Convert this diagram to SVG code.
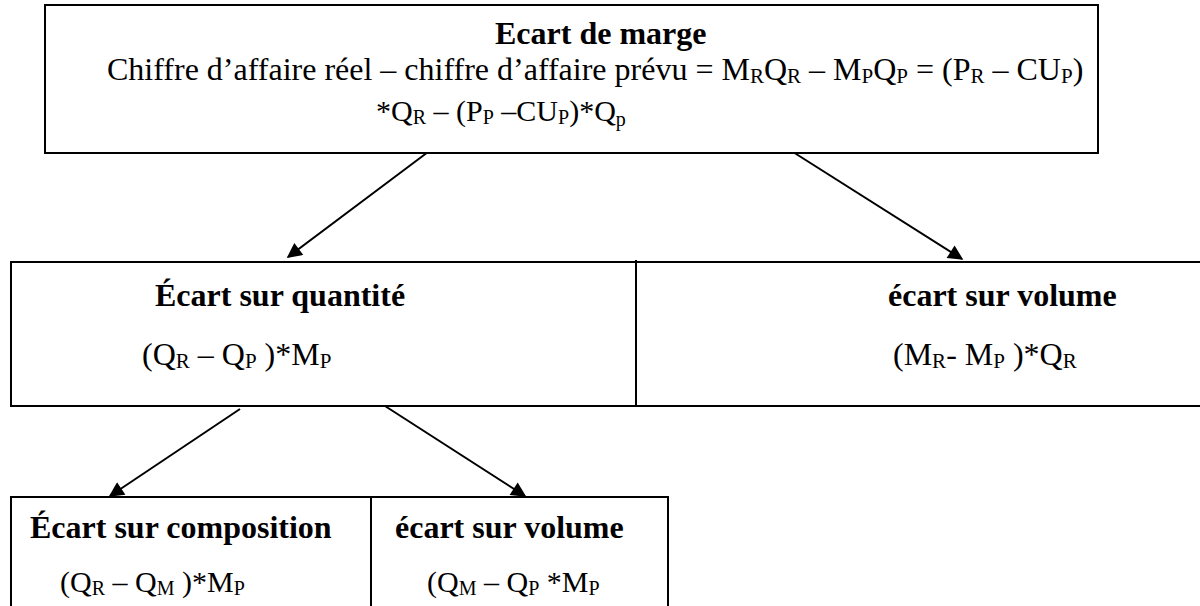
<svg xmlns="http://www.w3.org/2000/svg" width="1200" height="606" viewBox="0 0 1200 606">
<defs>
<style>
.box{fill:#fff;stroke:#000;stroke-width:2}
.div{stroke:#000;stroke-width:2}
.conn{stroke:#000;stroke-width:2;fill:none}
text{font-family:"Liberation Serif","Times New Roman",serif;font-size:32px;fill:#000}
.b{font-weight:bold}
.s{font-size:21px}
.f{font-size:30px}
.fs{font-size:20px}
</style>
<marker id="arr" viewBox="0 0 10 10" refX="9" refY="5" markerWidth="18" markerHeight="15" markerUnits="userSpaceOnUse" orient="auto">
<path d="M0,0 L10,5 L0,10 z" fill="#000"/>
</marker>
</defs>
<rect width="1200" height="606" fill="#fff"/>
<g id="connectors">
<line class="conn" x1="428" y1="152" x2="288" y2="257" marker-end="url(#arr)"/>
<line class="conn" x1="793" y1="152" x2="962" y2="259" marker-end="url(#arr)"/>
<line class="conn" x1="240" y1="409" x2="110" y2="496" marker-end="url(#arr)"/>
<line class="conn" x1="385" y1="406" x2="525" y2="496" marker-end="url(#arr)"/>
</g>
<g id="ecart-marge">
<rect class="box" x="45" y="5" width="1053" height="148"/>
<text class="b" x="495" y="44">Ecart de marge</text>
<text x="107" y="80">Chiffre d’affaire réel – chiffre d’affaire prévu = M<tspan class="s" dy="3">R</tspan><tspan dy="-3">Q</tspan><tspan class="s" dy="3">R</tspan><tspan dy="-3"> – M</tspan><tspan class="s" dy="3">P</tspan><tspan dy="-3">Q</tspan><tspan class="s" dy="3">P</tspan><tspan dy="-3"> = (P</tspan><tspan class="s" dy="3">R</tspan><tspan dy="-3"> – CU</tspan><tspan class="s" dy="3">P</tspan><tspan dy="-3">)</tspan></text>
<text class="f" x="376" y="121">*Q<tspan class="fs" dy="3">R</tspan><tspan dy="-3"> – (P</tspan><tspan class="fs" dy="3">P</tspan><tspan dy="-3"> –CU</tspan><tspan class="fs" dy="3">P</tspan><tspan dy="-3">)*Q</tspan><tspan class="fs" dy="5">p</tspan></text>
</g>
<g id="middle-row">
<rect class="box" x="11" y="262" width="1200" height="144"/>
<line class="div" x1="636" y1="260" x2="636" y2="406"/>
</g>
<g id="ecart-quantite">
<text class="b" x="155" y="306">Écart sur quantité</text>
<text x="142" y="365">(Q<tspan class="s" dy="3">R</tspan><tspan dy="-3"> – Q</tspan><tspan class="s" dy="3">P</tspan><tspan dy="-3"> )*M</tspan><tspan class="s" dy="3">P</tspan></text>
</g>
<g id="ecart-volume-1">
<text class="b" x="888" y="306">écart sur volume</text>
<text x="893" y="365">(M<tspan class="s" dy="3">R</tspan><tspan dy="-3">- M</tspan><tspan class="s" dy="3">P</tspan><tspan dy="-3"> )*Q</tspan><tspan class="s" dy="3">R</tspan></text>
</g>
<g id="bottom-row">
<rect class="box" x="11" y="497" width="657" height="130"/>
<line class="div" x1="371" y1="497" x2="371" y2="606"/>
</g>
<g id="ecart-composition">
<text class="b" x="30" y="538">Écart sur composition</text>
<text class="f" x="60" y="592">(Q<tspan class="fs" dy="3">R</tspan><tspan dy="-3"> – Q</tspan><tspan class="fs" dy="3">M</tspan><tspan dy="-3"> )*M</tspan><tspan class="fs" dy="3">P</tspan></text>
</g>
<g id="ecart-volume-2">
<text class="b" x="395" y="538">écart sur volume</text>
<text class="f" x="427" y="592">(Q<tspan class="fs" dy="3">M</tspan><tspan dy="-3"> – Q</tspan><tspan class="fs" dy="3">P</tspan><tspan dy="-3"> *M</tspan><tspan class="fs" dy="3">P</tspan></text>
</g>
</svg>
